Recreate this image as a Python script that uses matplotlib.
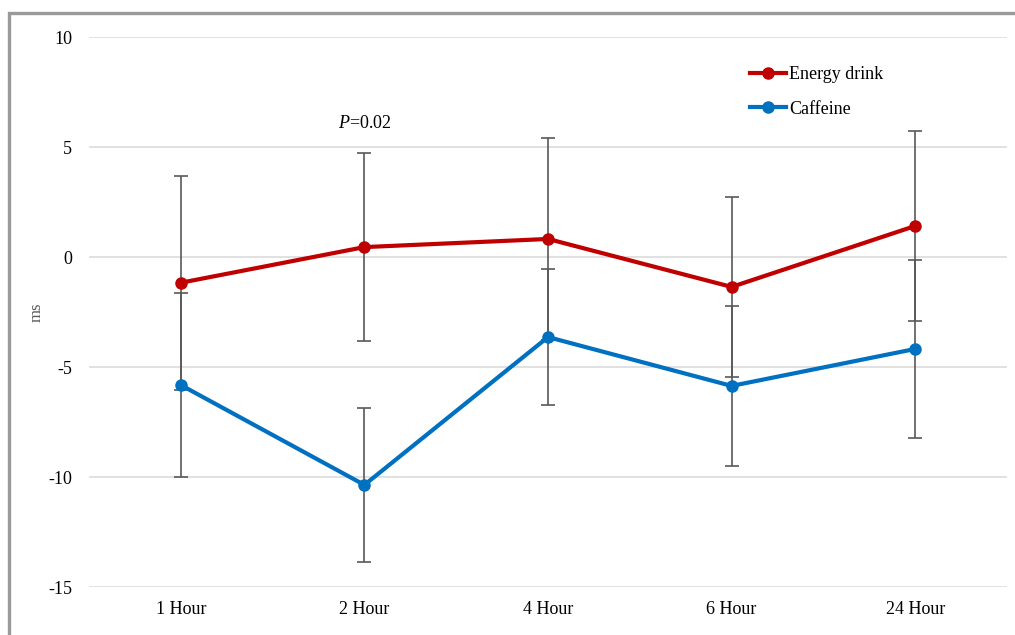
import matplotlib.pyplot as plt
from matplotlib.patches import Rectangle

# data
hours = ["1 Hour", "2 Hour", "4 Hour", "6 Hour", "24 Hour"]
energy_mean = [-1.17, 0.45, 0.82, -1.36, 1.41]
energy_err = [4.86, 4.28, 4.60, 4.09, 4.32]
caffeine_mean = [-5.82, -10.36, -3.64, -5.86, -4.18]
caffeine_err = [4.17, 3.50, 3.09, 3.63, 4.05]
y_ticks = [-15, -10, -5, 0, 5, 10]

plt.rcParams["font.family"] = ["Liberation Serif", "DejaVu Serif"]
plt.rcParams["axes.unicode_minus"] = False
plt.rcParams["mathtext.fontset"] = "custom"
plt.rcParams["mathtext.rm"] = "Liberation Serif"
plt.rcParams["mathtext.it"] = "Liberation Serif:italic"

fig = plt.figure(figsize=(10.15, 6.35), dpi=100)
ax = fig.add_axes([89 / 1015, 48 / 635, 918 / 1015, 550 / 635])

x = list(range(len(hours)))
err_style = dict(ecolor="#595959", elinewidth=1.2, capsize=5, capthick=1.2, fmt="none", zorder=2)
ax.errorbar(x, caffeine_mean, yerr=caffeine_err, **err_style)
ax.errorbar(x, energy_mean, yerr=energy_err, **err_style)

ax.plot(x, energy_mean, color="#c00000", lw=3, marker="o", ms=8, label="Energy drink", zorder=3)
ax.plot(x, caffeine_mean, color="#0070c0", lw=3, marker="o", ms=8, label="Caffeine", zorder=3)

ax.set_xlim(-0.5, len(hours) - 0.5)
ax.set_ylim(-15, 10)
ax.set_yticks(y_ticks)
ax.set_yticklabels([str(t) for t in y_ticks])
ax.set_xticks(x)
ax.set_xticklabels(hours)
ax.tick_params(length=0, labelsize=13, colors="#000000")
ax.tick_params(axis="y", pad=12)
ax.tick_params(axis="x", pad=10)
ax.grid(axis="y", color="#d9d9d9", lw=1.1)
ax.set_axisbelow(True)
for s in ax.spines.values():
    s.set_visible(False)

ax.set_ylabel("ms", fontsize=12, color="#595959", labelpad=3)

ax.text(1, 6.05, r"$\it{P}$=0.02", ha="center", va="center", fontsize=13)

ax.legend(loc="upper left", bbox_to_anchor=(0.7105, 0.963), frameon=False,
          fontsize=13, handlelength=2.0, handletextpad=0.15, labelspacing=0.95,
          borderpad=0)

# grey frame, cut off at right and bottom like the reference
fig.patches.append(Rectangle((8.5 / 1015, -0.1), 1.2, 1.1 - 13 / 635,
                             transform=fig.transFigure, fill=False,
                             edgecolor="#9a9a9a", lw=2.4, zorder=0))

fig.savefig("out.png", dpi=100)
